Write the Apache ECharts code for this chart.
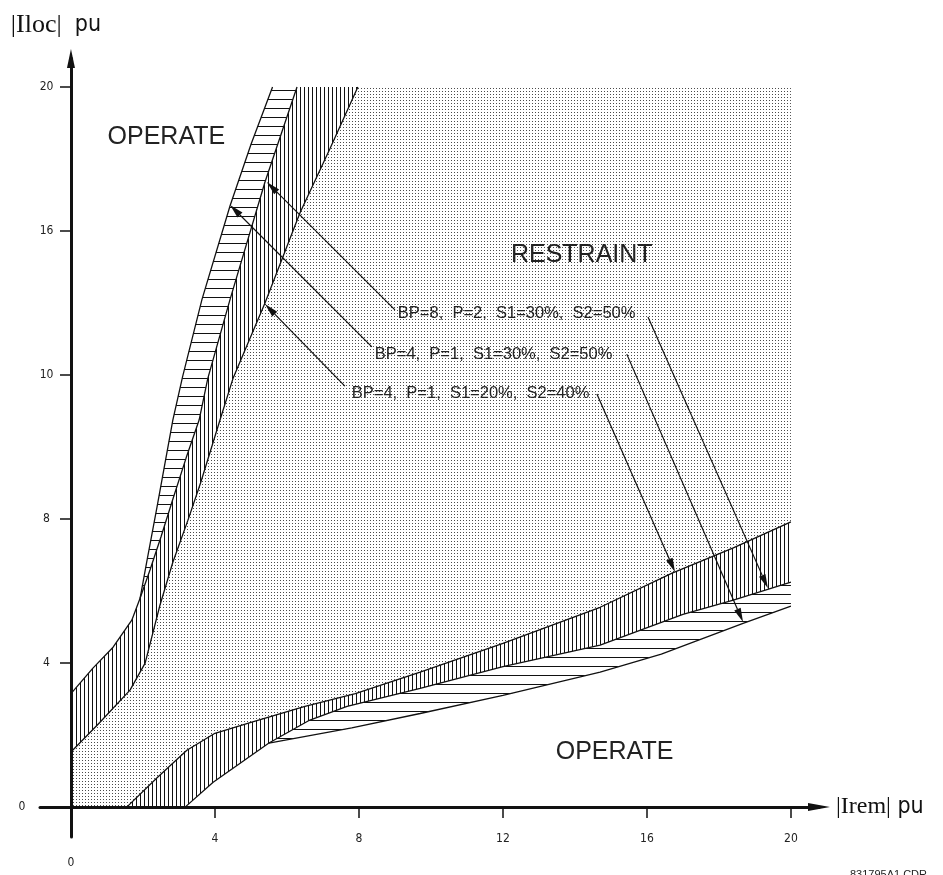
<!DOCTYPE html>
<html><head><meta charset="utf-8">
<script src="https://cdn.jsdelivr.net/npm/echarts@6/dist/echarts.min.js"></script>
<style>html,body{margin:0;padding:0;background:#fff}#c{width:943px;height:875px}</style>
</head><body><div id="c"></div>
<script>
// ---- axis ticks ----
const xTicks = [4, 8, 12, 16, 20];
const yTickValues = [0, 4, 8, 12, 16, 20];
const yTickLabels = ['0', '4', '8', '10', '16', '20'];
const plotMax = [20, 20];

// ---- characteristic curves [Irem, Iloc] ----
// upper side
const upperOuter  = [[0,3.15],[0.61,3.86],[1.17,4.44],[1.69,5.19],[1.92,5.8],[2.1,6.78],[2.39,8.33],[2.83,10.75],[3.1,11.95],[3.64,14.1],[4.42,16.7],[5.0,18.4],[5.6,20]];
const upperMiddle = [[1.92,5.8],[2.2,6.6],[2.5,7.5],[2.83,8.55],[3.2,9.7],[3.56,10.75],[3.8,11.9],[4.42,14.1],[5.39,17.36],[6.28,20]];
const upperInner  = [[0,1.53],[0.8,2.35],[1.64,3.25],[2.06,4.0],[2.47,5.6],[2.83,6.8],[3.25,7.97],[3.6,9.0],[4.14,10.75],[4.5,11.9],[5.39,14.0],[6.36,16.5],[7.2,18.3],[7.97,20]];
// lower side
const lowerOuter  = [[1.55,0],[2.4,0.82],[3.22,1.58],[4.0,2.05],[5.0,2.35],[6.5,2.8],[7.9,3.15],[9.7,3.75],[12,4.55],[14.7,5.55],[16.7,6.5],[18.4,7.2],[20,7.92]];
const lowerMiddle = [[3.17,0],[3.95,0.69],[5.5,1.78],[6.6,2.4],[7.67,2.8],[9.7,3.3],[12,3.9],[14.7,4.5],[17,5.35],[18.4,5.75],[20,6.25]];
const lowerInner  = [[5.5,1.78],[7.8,2.2],[9.7,2.6],[12,3.1],[14.7,3.75],[16.4,4.25],[18.67,5.1],[20,5.58]];

// ---- annotations ----
const settingLabels = ['BP=8,  P=2,  S1=30%,  S2=50%', 'BP=4,  P=1,  S1=30%,  S2=50%', 'BP=4,  P=1,  S1=20%,  S2=40%'];
const settingAnchors = [[9.08,13.72],[8.44,12.58],[7.8,11.5]];
const arrowLeaders = [
  [9.0,13.81, 5.44,17.36],
  [16.03,13.61, 19.36,6.08],
  [8.36,12.78, 4.42,16.72],
  [15.44,12.58, 18.67,5.14],
  [7.61,11.69, 5.39,13.97],
  [14.61,11.47, 16.78,6.53]
];
const regionNames = ['OPERATE', 'RESTRAINT', 'OPERATE'];
const regionAnchors = [[2.65,18.6],[14.19,15.33],[15.1,1.53]];

// ---- helpers ----
function idxOf(arr, p) { return arr.findIndex(q => q[0] === p[0] && q[1] === p[1]); }
function makePattern(w, h, draw) {
  const c = document.createElement('canvas'); c.width = w; c.height = h;
  const ctx = c.getContext('2d'); draw(ctx);
  return { image: c, repeat: 'repeat' };
}
const dots = makePattern(3, 3, ctx => { ctx.fillStyle = '#4a4a4a'; ctx.fillRect(1, 1, 1, 1); });
const vlines = makePattern(4, 4, ctx => { ctx.fillStyle = '#111'; ctx.fillRect(0, 0, 1, 4); });
const hlines = makePattern(9, 9, ctx => { ctx.fillStyle = '#111'; ctx.fillRect(0, 0, 9, 1); });

// regions
const ub = idxOf(upperOuter, upperMiddle[0]);
const lb = idxOf(lowerMiddle, lowerInner[0]);
const restraintPoly = [[0,0]].concat(upperInner, [plotMax, [plotMax[0], lowerOuter[lowerOuter.length-1][1]]], lowerOuter.slice().reverse());
const upperVPoly = upperOuter.slice(0, ub + 1).concat(upperMiddle.slice(1), upperInner.slice().reverse());
const upperHPoly = upperOuter.slice(ub).concat(upperMiddle.slice().reverse());
const lowerVPoly = lowerOuter.concat(lowerMiddle.slice().reverse());
const lowerHPoly = lowerMiddle.slice(lb).concat(lowerInner.slice().reverse());

function regionSeries(points, fill) {
  return {
    type: 'custom', coordinateSystem: 'cartesian2d', silent: true, z: 1, clip: false,
    data: [points[0]],
    renderItem: (params, api) => ({
      type: 'polygon',
      shape: { points: points.map(p => api.coord(p)) },
      style: { fill: fill, stroke: null }
    })
  };
}
function curveSeries(points) {
  return {
    type: 'line', data: points, showSymbol: false, symbol: 'none', silent: true, z: 3,
    lineStyle: { color: '#111', width: 1.3 }
  };
}

const tickFont = "'Liberation Sans Narrow','DejaVu Sans Condensed','Roboto Condensed',sans-serif";
const textFont = "'Liberation Sans','Helvetica','Arial',sans-serif";

const chart = echarts.init(document.getElementById('c'), null, { renderer: 'canvas' });
chart.setOption({
  animation: false,
  backgroundColor: '#fff',
  title: [{
    text: '831795A1.CDR', right: 11, top: 864,
    textStyle: { fontSize: 11, fontWeight: 'normal', color: '#222', fontFamily: textFont }
  }],
  grid: { left: 40, right: 124, top: 58.5, bottom: 38, containLabel: false, outerBoundsMode: 'none' },
  xAxis: {
    type: 'value', min: -0.86, max: 20.78,
    splitLine: { show: false },
    axisLine: { onZero: true, lineStyle: { color: '#111', width: 3 }, symbol: ['none', 'triangle'], symbolSize: [8, 22] },
    axisTick: { show: true, customValues: xTicks, length: 11, lineStyle: { color: '#111', width: 1.5 } },
    axisLabel: {
      customValues: [0].concat(xTicks), margin: -4, fontSize: 12, color: '#222', fontFamily: tickFont,
      formatter: v => v === 0 ? '{z|0}' : String(v),
      rich: { z: { padding: [24, 0, 0, 0], fontSize: 12, color: '#222', fontFamily: tickFont } }
    },
    name: '{a||Irem|}{b| pu}', nameLocation: 'end', nameGap: 17,
    nameTextStyle: {
      rich: {
        a: { fontFamily: "'Liberation Serif','Times New Roman',serif", fontSize: 24, color: '#111' },
        b: { fontFamily: tickFont, fontSize: 23, color: '#111' }
      }
    }
  },
  yAxis: {
    type: 'value', min: -0.83, max: 20.79,
    splitLine: { show: false },
    axisLine: { onZero: true, lineStyle: { color: '#111', width: 3 }, symbol: ['none', 'triangle'], symbolSize: [8, 19] },
    axisTick: { show: true, customValues: yTickValues.slice(1), length: 11, lineStyle: { color: '#111', width: 1.5 } },
    axisLabel: {
      customValues: yTickValues, margin: -6.5, align: 'center', fontSize: 12, color: '#222', fontFamily: tickFont,
      formatter: v => { const i = yTickValues.indexOf(v); const s = i >= 0 ? yTickLabels[i] : String(v); return v === 0 ? '{z|' + s + '}' : s; },
      rich: { z: { padding: [0, 49, 0, 0], fontSize: 12, color: '#222', fontFamily: tickFont } }
    },
    name: '{a||Iloc|}{b|  pu}', nameLocation: 'end', nameGap: 20,
    nameTextStyle: {
      padding: [0, 30, 0, 0],
      rich: {
        a: { fontFamily: "'Liberation Serif','Times New Roman',serif", fontSize: 26, color: '#111' },
        b: { fontFamily: tickFont, fontSize: 23, color: '#111' }
      }
    }
  },
  series: [
    regionSeries(restraintPoly, dots),
    regionSeries(upperVPoly, vlines),
    regionSeries(upperHPoly, hlines),
    regionSeries(lowerVPoly, vlines),
    regionSeries(lowerHPoly, hlines),
    curveSeries(upperOuter), curveSeries(upperMiddle), curveSeries(upperInner),
    curveSeries(lowerOuter), curveSeries(lowerMiddle), curveSeries(lowerInner),
    {
      type: 'custom', coordinateSystem: 'cartesian2d', silent: true, z: 5, clip: false,
      data: arrowLeaders,
      renderItem: (params, api) => {
        const a = api.coord([api.value(0), api.value(1)]);
        const b = api.coord([api.value(2), api.value(3)]);
        const dx = b[0] - a[0], dy = b[1] - a[1], L = Math.hypot(dx, dy), ux = dx / L, uy = dy / L;
        const hl = 14, hw = 3.5;
        const base = [b[0] - ux * hl, b[1] - uy * hl];
        return { type: 'group', children: [
          { type: 'line', shape: { x1: a[0], y1: a[1], x2: base[0], y2: base[1] }, style: { stroke: '#111', lineWidth: 1.2 } },
          { type: 'polygon', shape: { points: [b, [base[0] - uy * hw, base[1] + ux * hw], [base[0] + uy * hw, base[1] - ux * hw]] }, style: { fill: '#111' } }
        ]};
      }
    },
    {
      type: 'custom', coordinateSystem: 'cartesian2d', silent: true, z: 6, clip: false,
      data: settingAnchors.map((p, i) => [p[0], p[1], i]),
      renderItem: (params, api) => {
        const p = api.coord([api.value(0), api.value(1)]);
        return { type: 'text', x: p[0], y: p[1], style: {
          text: settingLabels[api.value(2)], fill: '#222', font: '16.5px ' + textFont, textAlign: 'left', textVerticalAlign: 'middle' } };
      }
    },
    {
      type: 'custom', coordinateSystem: 'cartesian2d', silent: true, z: 6, clip: false,
      data: regionAnchors.map((p, i) => [p[0], p[1], i]),
      renderItem: (params, api) => {
        const p = api.coord([api.value(0), api.value(1)]);
        return { type: 'text', x: p[0], y: p[1], style: {
          text: regionNames[api.value(2)], fill: '#222', font: '25px ' + textFont, textAlign: 'center', textVerticalAlign: 'middle' } };
      }
    }
  ]
});
</script></body></html>
